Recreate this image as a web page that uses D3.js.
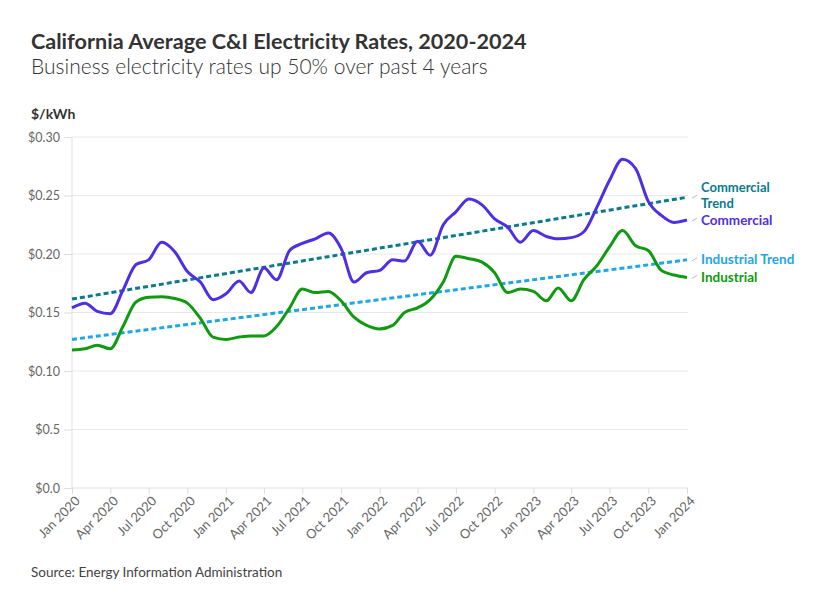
<!DOCTYPE html>
<html>
<head>
<meta charset="utf-8">
<script src="https://cdn.jsdelivr.net/npm/d3@7"></script>
<style>
  body { margin: 0; background: #fff; }
  svg { font-family: Lato, "Noto Sans", sans-serif; }
</style>
</head>
<body>
<svg id="chart" width="836" height="604"></svg>
<script>
const startMonth = "2020-01";
const commercial = [
  0.154, 0.158, 0.151, 0.149, 0.169, 0.191, 0.195, 0.210, 0.202, 0.185, 0.176, 0.161,
  0.166, 0.177, 0.167, 0.188, 0.178, 0.203, 0.209, 0.213, 0.218, 0.205, 0.176, 0.184,
  0.186, 0.195, 0.194, 0.211, 0.199, 0.225, 0.236, 0.247, 0.242, 0.230, 0.223, 0.210,
  0.220, 0.215, 0.213, 0.214, 0.219, 0.240, 0.263, 0.281, 0.273, 0.245, 0.233, 0.227,
  0.229
];
const industrial = [
  0.118, 0.119, 0.122, 0.119, 0.138, 0.159, 0.163, 0.1635, 0.162, 0.158, 0.145, 0.129,
  0.127, 0.129, 0.130, 0.130, 0.138, 0.154, 0.170, 0.167, 0.168, 0.160, 0.146, 0.139,
  0.136, 0.139, 0.150, 0.154, 0.161, 0.176, 0.198, 0.196, 0.193, 0.184, 0.167, 0.170,
  0.168, 0.160, 0.171, 0.160, 0.178, 0.190, 0.206, 0.220, 0.207, 0.203, 0.186, 0.182,
  0.180
];
const commercialTrend = [0.1615, 0.2485];
const industrialTrend = [0.127, 0.195];
const yTickValues = [0, 0.05, 0.10, 0.15, 0.20, 0.25, 0.30];
const yTickLabels = ["$0.0", "$0.5", "$0.10", "$0.15", "$0.20", "$0.25", "$0.30"];
const seriesLabels = [
  { name: "Commercial Trend", lines: ["Commercial", "Trend"], color: "#0b7a8c", y: 0.2485 },
  { name: "Commercial", lines: ["Commercial"], color: "#4f2fe3", y: 0.229 },
  { name: "Industrial Trend", lines: ["Industrial Trend"], color: "#1ea6e6", y: 0.195 },
  { name: "Industrial", lines: ["Industrial"], color: "#0f9a0f", y: 0.180 }
];

const svg = d3.select("#chart");
const mLeft = 72, mRight = 687, mTop = 137, mBottom = 488;

const parse = d3.timeParse("%Y-%m");
const start = parse(startMonth);
const dates = commercial.map((_, i) => d3.timeMonth.offset(start, i));

const x = d3.scaleTime().domain([dates[0], dates[dates.length - 1]]).range([mLeft, mRight]);
const y = d3.scaleLinear().domain([0, 0.30]).range([mBottom, mTop]);

// Title
svg.append("text").attr("x", 31).attr("y", 49).attr("font-size", 21.6).attr("font-weight", 700)
  .attr("fill", "#333").text("California Average C&I Electricity Rates, 2020-2024");
svg.append("text").attr("x", 31).attr("y", 74).attr("font-size", 21).attr("font-weight", 300)
  .attr("fill", "#333").text("Business electricity rates up 50% over past 4 years");
svg.append("text").attr("x", 31).attr("y", 119).attr("font-size", 14).attr("font-weight", 700)
  .attr("fill", "#333").text("$/kWh");

// Gridlines
svg.append("g").selectAll("line").data(yTickValues.filter(v => v > 0)).join("line")
  .attr("x1", mLeft).attr("x2", mRight + 1).attr("y1", d => y(d)).attr("y2", d => y(d))
  .attr("stroke", "#e8e8e8").attr("stroke-width", 1);

// Y axis
const yAxis = svg.append("g").attr("transform", `translate(${mLeft},0)`)
  .call(d3.axisLeft(y).tickValues(yTickValues).tickSize(8).tickPadding(4)
    .tickFormat((d, i) => yTickLabels[i]));
yAxis.select(".domain").attr("stroke", "#e0e0e0").attr("d", `M0,${mTop}V${mBottom}`);
yAxis.selectAll(".tick line").attr("stroke", "#ddd");
yAxis.selectAll(".tick text").attr("fill", "#666").attr("font-size", 12.5)
  .attr("font-family", "Lato, 'Noto Sans', sans-serif");

// X axis
const xTicks = d3.timeMonth.every(3).range(dates[0], d3.timeMonth.offset(dates[dates.length - 1], 1));
const xAxis = svg.append("g").attr("transform", `translate(0,${mBottom})`)
  .call(d3.axisBottom(x).tickValues(xTicks).tickSize(6).tickFormat(d3.timeFormat("%b %Y")));
xAxis.select(".domain").attr("stroke", "#e0e0e0").attr("d", `M${mLeft},0H${mRight + 1}`);
xAxis.selectAll(".tick line").attr("stroke", "#ddd");
xAxis.selectAll(".tick text").attr("fill", "#666").attr("font-size", 13)
  .attr("font-family", "Lato, 'Noto Sans', sans-serif")
  .attr("text-anchor", "end").attr("dx", "-0.3em").attr("dy", "0.5em")
  .attr("transform", "rotate(-45)");

// Trend lines
const trendLine = d3.line().x(d => x(d[0])).y(d => y(d[1]));
const tEnds = [dates[0], dates[dates.length - 1]];
svg.append("path").datum(tEnds.map((d, i) => [d, commercialTrend[i]]))
  .attr("d", trendLine).attr("fill", "none").attr("stroke", "#0b7a8c")
  .attr("stroke-width", 3).attr("stroke-dasharray", "5,3");
svg.append("path").datum(tEnds.map((d, i) => [d, industrialTrend[i]]))
  .attr("d", trendLine).attr("fill", "none").attr("stroke", "#1ea6e6")
  .attr("stroke-width", 3).attr("stroke-dasharray", "5,3");

// Series lines
const line = d3.line().curve(d3.curveMonotoneX).x((d, i) => x(dates[i])).y(d => y(d));
svg.append("path").datum(commercial).attr("d", line).attr("fill", "none")
  .attr("stroke", "#4f2fe3").attr("stroke-width", 3).attr("stroke-linejoin", "round");
svg.append("path").datum(industrial).attr("d", line).attr("fill", "none")
  .attr("stroke", "#0f9a0f").attr("stroke-width", 3).attr("stroke-linejoin", "round");

// Labels (baseline offsets relative to the series end point)
const labelYOffsets = { "Commercial Trend": -5, "Commercial": 5, "Industrial Trend": 4, "Industrial": 5 };
seriesLabels.forEach(s => {
  const py = y(s.y);
  const ly = py + labelYOffsets[s.name];
  svg.append("line").attr("x1", mRight + 5).attr("x2", mRight + 10)
    .attr("y1", py + 1).attr("y2", py - 2)
    .attr("stroke", "#bbb").attr("stroke-width", 1);
  const fs = s.lines.length > 1 ? 13 : 13.5;
  s.lines.forEach((l, i) => {
    svg.append("text").attr("x", 701).attr("y", ly + i * 15.8)
      .attr("font-size", fs).attr("font-weight", 700).attr("fill", s.color).text(l);
  });
});

// Source
svg.append("text").attr("x", 31).attr("y", 577).attr("font-size", 13.5).attr("fill", "#444")
  .text("Source: Energy Information Administration");
</script>
</body>
</html>
